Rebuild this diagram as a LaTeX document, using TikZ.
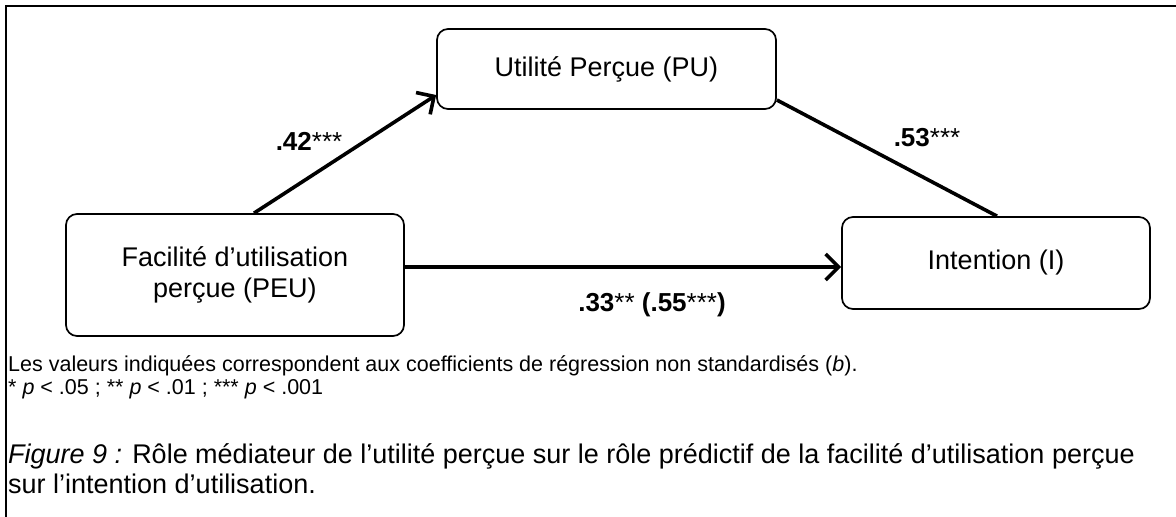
\documentclass[tikz,border=0pt]{standalone}
\usepackage{fontspec}
\setmainfont{Liberation Sans}
\usetikzlibrary{arrows.meta}

\begin{document}
\begin{tikzpicture}[x=1pt,y=-1pt,
  varbox/.style={draw,line width=1.7pt,rounded corners=11pt,align=center,
    inner sep=0pt,font=\fontsize{27}{31}\selectfont},
  link/.style={line width=3.6pt},
  barb/.style={-{Straight Barb[length=13pt,width=26pt]}},
  coef/.style={inner sep=0pt,font=\fontsize{26}{31}\selectfont},
  note/.style={anchor=west,inner sep=0pt,font=\fontsize{21.5}{25}\selectfont},
  capt/.style={anchor=west,inner sep=0pt,font=\fontsize{27}{32}\selectfont}]

  \useasboundingbox (0,0) rectangle (1176,517);

  % Frame
  \draw[line width=2.5pt] (6,517) -- (6,6) -- (1176,6);

  % Boxes
  \node[varbox,minimum width=339pt,minimum height=80pt] (pu) at (606.5,69) {Utilité Perçue (PU)};
  \node[varbox,minimum width=338pt,minimum height=122pt] (peu) at (235,275) {Facilité d’utilisation\\perçue (PEU)};
  \node[varbox,minimum width=308pt,minimum height=92pt] (int) at (996,263) {Intention (I)};

  % Paths
  \draw[link,barb] ([xshift=19pt]peu.north) -- (pu.west |- 0,95);
  \draw[link] (pu.east |- 0,100) -- (997,0 |- int.north);
  \draw[link,barb] (peu.east |- 0,267) -- (int.west |- 0,267);

  % Coefficients
  \node[coef] (b1) at (309,141) {\textbf{.42}***};
  \node[coef] (b2) at (927,138) {\textbf{.53}***};
  \node[coef] (b3) at (652,305) {\textbf{.33}** \textbf{(.55}***\textbf{)}};

  % Notes
  \node[note] (n1) at (8,366) {Les valeurs indiquées correspondent aux coefficients de régression non standardisés (\textit{b}).};
  \node[note] (n2) at (8,389) {* \textit{p} < .05 ; ** \textit{p} < .01 ; *** \textit{p} < .001};

  % Caption
  \node[capt] (c1) at (8,456) {\textit{Figure 9 :} Rôle médiateur de l’utilité perçue sur le rôle prédictif de la facilité d’utilisation perçue};
  \node[capt] (c2) at (8,484) {sur l’intention d’utilisation.};
\end{tikzpicture}
\end{document}
